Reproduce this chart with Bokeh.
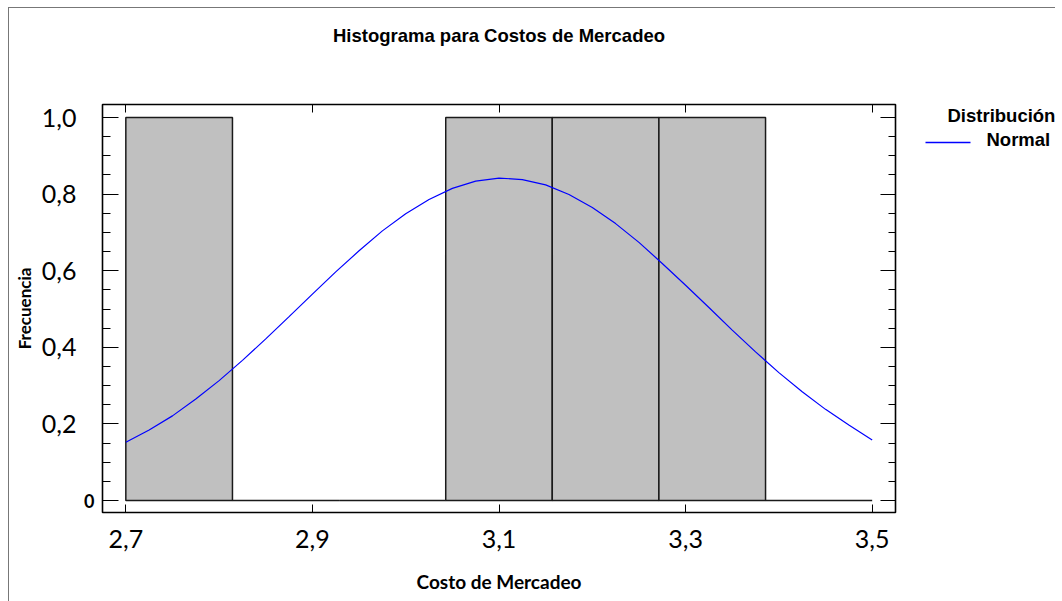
from bokeh.plotting import figure
from bokeh.layouts import row
from bokeh.models import Range1d, FixedTicker, CustomJSTickFormatter, LinearAxis
from bokeh.core.properties import value
from bokeh.embed import file_html
from bokeh.resources import INLINE

# ---- data -------------------------------------------------------------
bin_edges = [2.7, 2.8143, 2.9286, 3.0429, 3.1571, 3.2714, 3.3857, 3.5]
bin_counts = [1, 0, 0, 1, 1, 1, 0]

curve_x = [2.700, 2.725, 2.750, 2.775, 2.800, 2.825, 2.850, 2.875, 2.900,
           2.925, 2.950, 2.975, 3.000, 3.025, 3.050, 3.075, 3.100, 3.125,
           3.150, 3.175, 3.200, 3.225, 3.250, 3.275, 3.300, 3.325, 3.350,
           3.375, 3.400, 3.425, 3.450, 3.475, 3.500]
curve_y = [0.152, 0.184, 0.221, 0.265, 0.313, 0.366, 0.422, 0.480, 0.539,
           0.597, 0.652, 0.704, 0.749, 0.786, 0.815, 0.834, 0.842, 0.838,
           0.824, 0.799, 0.765, 0.723, 0.674, 0.619, 0.562, 0.504, 0.445,
           0.388, 0.334, 0.284, 0.238, 0.197, 0.158]

x_ticks = [2.7, 2.9, 3.1, 3.3, 3.5]
y_ticks = [0.0, 0.2, 0.4, 0.6, 0.8, 1.0]
y_minor = [0.05, 0.10, 0.15, 0.25, 0.30, 0.35, 0.45, 0.50, 0.55,
           0.65, 0.70, 0.75, 0.85, 0.90, 0.95]

title_text = "Histograma para Costos de Mercadeo"
x_title = "Costo de Mercadeo"
y_title = "Frecuencia"
legend_title = "Distribución"
legend_item = "Normal"

CURVE_COLOR = "#0000ff"
FRAME_W, FRAME_H = 793, 408
BORDER_TOP, BORDER_BOTTOM = 96, 89

# ---- main figure ------------------------------------------------------
p = figure(frame_width=FRAME_W, frame_height=FRAME_H,
           min_border_left=93, min_border_right=10,
           min_border_top=BORDER_TOP, min_border_bottom=BORDER_BOTTOM,
           x_range=Range1d(2.675, 3.525), y_range=Range1d(-0.0313, 1.034),
           output_backend="svg", toolbar_location=None, tools="",
           title_location=None)
p.background_fill_color = "white"
p.border_fill_color = "white"
p.grid.visible = False
p.outline_line_color = "black"
p.outline_line_width = 1.6

comma_fmt = CustomJSTickFormatter(code="return tick.toFixed(1).replace('.', ',');")
zero_fmt = CustomJSTickFormatter(code="return Math.abs(tick) < 1e-9 ? '0' : '';")
blank_fmt = CustomJSTickFormatter(code="return '';")

# bottom axis
xa = p.xaxis[0]
xa.ticker = FixedTicker(ticks=x_ticks)
xa.formatter = comma_fmt
xa.major_tick_in = 8
xa.major_tick_out = 0
xa.minor_tick_in = 0
xa.minor_tick_out = 0
xa.axis_line_color = None
xa.major_tick_line_color = "black"
xa.major_label_text_font = "Lato"
xa.major_label_text_font_size = "25px"
xa.major_label_text_color = "black"
xa.major_label_standoff = 17
xa.axis_label = x_title
xa.axis_label_text_font = "Lato"
xa.axis_label_text_font_style = "bold"
xa.axis_label_text_font_size = "19px"
xa.axis_label_text_color = "black"
xa.axis_label_standoff = 19

# inner left axis: ticks and the bold zero
ya = p.yaxis[0]
ya.ticker = FixedTicker(ticks=y_ticks, minor_ticks=y_minor)
ya.formatter = zero_fmt
ya.major_tick_in = 16
ya.major_tick_out = 0
ya.minor_tick_in = 8
ya.minor_tick_out = 0
ya.axis_line_color = None
ya.major_tick_line_color = "black"
ya.minor_tick_line_color = "black"
ya.major_label_text_font = "Lato"
ya.major_label_text_font_style = "bold"
ya.major_label_text_font_size = "18px"
ya.major_label_text_color = "black"
ya.major_label_standoff = 8

# outer left axis: decimal labels and the axis title
ya2 = LinearAxis(ticker=FixedTicker(ticks=y_ticks[1:]), formatter=comma_fmt,
                 major_tick_in=0, major_tick_out=0, minor_tick_in=0, minor_tick_out=0,
                 major_tick_line_color=None, minor_tick_line_color=None,
                 axis_line_color=None,
                 major_label_text_font="Lato", major_label_text_font_size="25px",
                 major_label_text_color="black", major_label_standoff=5,
                 axis_label=y_title, axis_label_text_font="Lato",
                 axis_label_text_font_style="bold", axis_label_text_font_size="17px",
                 axis_label_text_color="black", axis_label_standoff=4)
p.add_layout(ya2, "left")

# top axis: inward ticks, carries the chart title
ta = LinearAxis(ticker=FixedTicker(ticks=x_ticks), formatter=blank_fmt,
                major_tick_in=8, major_tick_out=0, minor_tick_in=0, minor_tick_out=0,
                axis_line_color=None, major_label_text_font_size="0px",
                major_label_standoff=0,
                axis_label=title_text, axis_label_text_font="Liberation Sans",
                axis_label_text_font_style="bold", axis_label_text_font_size="18.5px",
                axis_label_text_color="black", axis_label_standoff=59)
p.add_layout(ta, "above")

# right axis
ra = LinearAxis(ticker=FixedTicker(ticks=y_ticks, minor_ticks=y_minor), formatter=blank_fmt,
                major_tick_in=15, major_tick_out=0, minor_tick_in=7, minor_tick_out=0,
                axis_line_color=None, major_label_text_font_size="0px",
                major_label_standoff=0)
p.add_layout(ra, "right")

# marks
p.quad(left=bin_edges[:-1], right=bin_edges[1:], top=bin_counts, bottom=[0] * len(bin_counts),
       fill_color="#c0c0c0", line_color="#1a1a1a", line_width=1.5)
p.line(curve_x, curve_y, line_color=CURVE_COLOR, line_width=1.2)

# ---- legend panel (pixel coordinates measured from the frame top) --------
LEG_W = 150
p2 = figure(frame_width=LEG_W, frame_height=FRAME_H,
            min_border_left=0, min_border_right=0,
            min_border_top=BORDER_TOP, min_border_bottom=BORDER_BOTTOM,
            x_range=Range1d(0, LEG_W), y_range=Range1d(FRAME_H, 0),
            x_axis_location=None, y_axis_location=None, title_location=None,
            output_backend="svg", toolbar_location=None, tools="")
p2.grid.visible = False
p2.outline_line_color = None
p2.background_fill_color = "white"
p2.border_fill_color = "white"
p2.text(x=[42], y=[10.7], text=[legend_title], text_align="left",
        text_baseline="alphabetic", text_font=value("Liberation Sans"),
        text_font_style="bold", text_font_size=value("18.5px"), text_color="black")
p2.text(x=[81], y=[35.2], text=[legend_item], text_align="left",
        text_baseline="alphabetic", text_font=value("Liberation Sans"),
        text_font_style="bold", text_font_size=value("18.5px"), text_color="black")
p2.line(x=[20, 65], y=[38, 38], line_color=CURVE_COLOR, line_width=1.5)

layout = row(p, p2, spacing=0,
             styles={"margin-left": "8px", "margin-top": "7px",
                     "border-top": "1px solid #777777", "border-left": "1px solid #777777"})

open("out.html", "w").write(file_html(layout, INLINE))
